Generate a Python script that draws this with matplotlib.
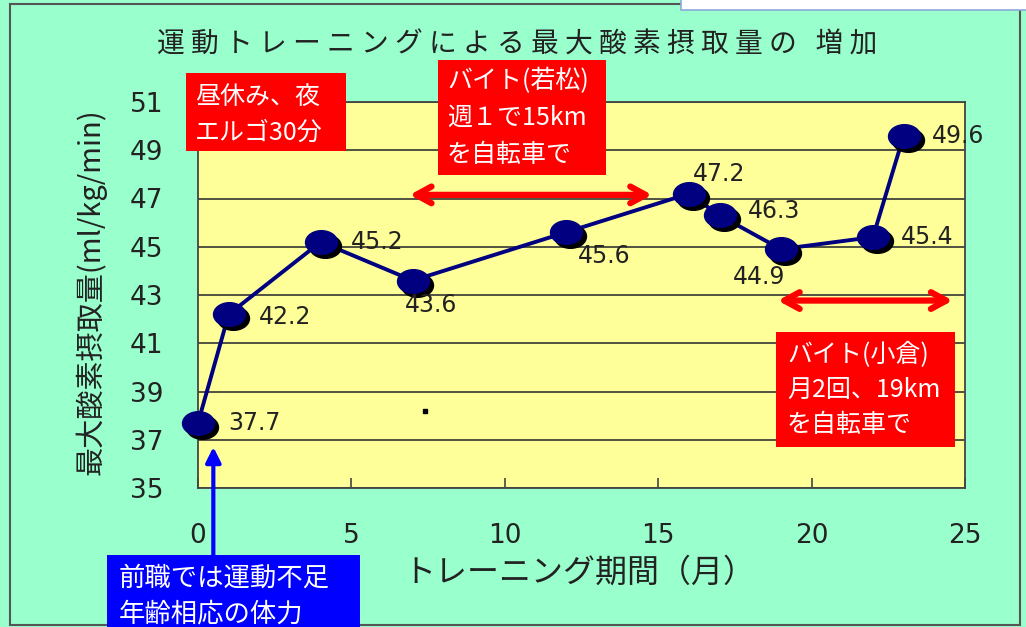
import numpy as np
import matplotlib
matplotlib.use("Agg")
import matplotlib.pyplot as plt
from matplotlib.path import Path
from matplotlib.patches import Rectangle
from matplotlib.transforms import offset_copy

plt.rcParams['font.family'] = ['Noto Sans CJK JP', 'DejaVu Sans']

# データ
months = [0, 1, 4, 7, 12, 16, 17, 19, 22, 23]
vo2 = [37.7, 42.2, 45.2, 43.6, 45.6, 47.2, 46.3, 44.9, 45.4, 49.6]
# ラベル位置 (ピクセルオフセット)
label_offsets = [(30, 0), (30, -3), (30, 0), (-8, -24), (12, -24),
                 (4, 20), (28, 4), (-48, -28), (28, 0), (28, 0)]
y_ticks = [35, 37, 39, 41, 43, 45, 47, 49, 51]
x_ticks = [0, 5, 10, 15, 20, 25]

W, H = 1026, 627
BG = '#99FFCC'
NAVY = '#000080'
TXT = '#222222'

fig = plt.figure(figsize=(W / 100, H / 100), dpi=100, facecolor=BG)


def fx(px):
    return px / W


def fy(py):
    return 1 - py / H


# 外枠
fig.patches.append(Rectangle((fx(10), fy(625)), fx(1020) - fx(10), fy(4) - fy(625),
                             transform=fig.transFigure, fill=False,
                             edgecolor='#555555', lw=1.5))
fig.patches.append(Rectangle((fx(681), fy(10)), fx(1030) - fx(681), fy(-5) - fy(10),
                             transform=fig.transFigure, facecolor='white',
                             edgecolor='#8EA9D8', lw=1.2, zorder=5))

ax = fig.add_axes([fx(198), fy(488), fx(965) - fx(198), fy(102) - fy(488)])
ax.set_facecolor('#FFFF99')
ax.set_xlim(0, 25)
ax.set_ylim(35, 51)
ax.set_xticks(x_ticks)
ax.set_yticks(y_ticks)
ax.yaxis.grid(True, color='#333333', lw=1.2)
ax.set_axisbelow(True)
for s in ax.spines.values():
    s.set_color('#444444')
    s.set_linewidth(1.3)
ax.tick_params(axis='x', direction='in', length=7, width=1.2, color='#444444',
               pad=25, labelsize=19)
ax.tick_params(axis='y', length=0, pad=25, labelsize=19)
for lab in ax.get_xticklabels() + ax.get_yticklabels():
    lab.set_fontfamily('DejaVu Sans')
    lab.set_color(TXT)

# 軸ラベル
fig.text(fx(91), fy(292), '最大酸素摂取量(ml/kg/min)', rotation=90,
         ha='center', va='center', fontsize=21, color=TXT)
fig.text(fx(579), fy(573), 'トレーニング期間（月）', ha='center', va='center',
         fontsize=23, color=TXT)

# 楕円マーカー
circ = Path.unit_circle()
ell = Path(circ.vertices * np.array([1.35, 1.0]), circ.codes)

shadow = offset_copy(ax.transData, fig=fig, x=4, y=-4, units='dots')
ax.plot(months, vo2, color=NAVY, lw=2.8, zorder=3)
ax.plot(months, vo2, ls='none', marker=ell, markersize=23, color='black',
        transform=shadow, zorder=4, clip_on=False)
ax.plot(months, vo2, ls='none', marker=ell, markersize=23, color=NAVY,
        markeredgecolor=NAVY, zorder=5, clip_on=False)

for m, v, (dx, dy) in zip(months, vo2, label_offsets):
    ax.annotate(f'{v:.1f}', (m, v), xytext=(dx, dy), textcoords='offset pixels',
                ha='left', va='center', fontsize=17, family='DejaVu Sans',
                color=TXT, zorder=6, annotation_clip=False)

# タイトル
fig.text(fx(517), fy(45), ' '.join('運動トレーニングによる最大酸素摂取量の') + '   増 加',
         ha='center', va='center', fontsize=20, color=TXT)

# 赤い矢印
for x0, x1, yv in [(6.9, 14.8, 47.15), (18.9, 24.6, 42.77)]:
    ax.annotate('', xy=(x1, yv), xytext=(x0, yv),
                arrowprops=dict(arrowstyle='<->,head_length=1.1,head_width=0.6',
                                color='#FF0000', lw=4.5, shrinkA=0, shrinkB=0),
                annotation_clip=False, zorder=7)

# 青い矢印
ax.annotate('', xy=(0.5, 36.7), xytext=(0.5, 32.2),
            arrowprops=dict(arrowstyle='-|>,head_length=0.9,head_width=0.45',
                            color='#0000FF', lw=3, shrinkA=0, shrinkB=0),
            annotation_clip=False, zorder=7)

# 黒い点
ax.plot([7.4], [38.2], marker='s', markersize=3.5, color='black', zorder=6)


def box(x0, y0, x1, y1, color, lines, tx, ty0, dy, size):
    fig.patches.append(Rectangle((fx(x0), fy(y1)), fx(x1) - fx(x0), fy(y0) - fy(y1),
                                 transform=fig.transFigure, facecolor=color,
                                 edgecolor='none', zorder=8))
    for i, t in enumerate(lines):
        fig.text(fx(tx), fy(ty0 + i * dy), t, ha='left', va='center',
                 fontsize=size, color='white', zorder=9)


box(186, 73, 346, 151, '#FF0000', ['昼休み、夜', 'エルゴ30分'], 195, 97, 36, 18)
box(438, 60, 606, 175, '#FF0000', ['バイト(若松)', '週１で15km', 'を自転車で'], 447, 81, 37, 18)
box(776, 332, 955, 447, '#FF0000', ['バイト(小倉)', '月2回、19km', 'を自転車で'], 787, 355, 35, 18)
box(107, 555, 360, 630, '#0000FF', ['前職では運動不足', '年齢相応の体力'], 119, 578, 36, 19)

fig.savefig('out.png', dpi=100, facecolor=BG)
